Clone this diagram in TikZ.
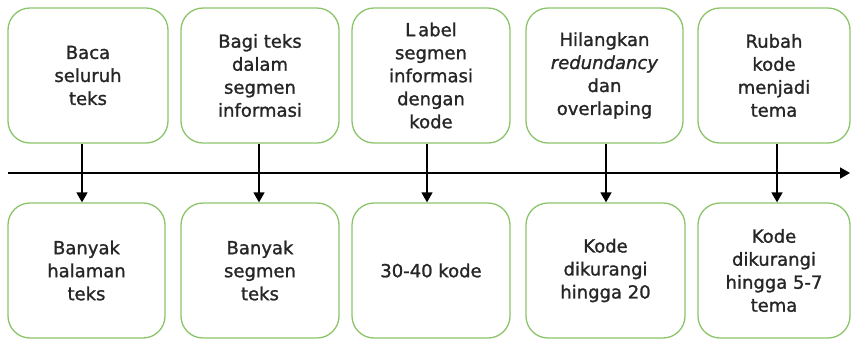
\documentclass[tikz,border=0pt]{standalone}
\usepackage{fontspec}
\newfontfamily\boxfont[FakeBold=1.3]{DejaVu Sans}
\usetikzlibrary{arrows.meta}
\definecolor{boxgreen}{RGB}{140,196,106}
\definecolor{ink}{RGB}{38,38,38}
\tikzset{
  stepbox/.style={draw=boxgreen, line width=1.3pt, rounded corners=22pt,
    minimum height=135pt, align=center, text=ink,
    font=\boxfont\fontsize{18}{23}\selectfont},
  flow/.style={line width=1.6pt, ->}
}
\begin{document}
\begin{tikzpicture}[x=1pt, y=-1pt, >={Triangle[width=11pt,length=10pt]}]
        \useasboundingbox (0, 0) rectangle (851, 341);
        % upper row
        \node[stepbox, minimum width=160pt] (t1) at (88, 75.5) {Baca\\seluruh\\teks};
        \node[stepbox, minimum width=158pt] (t2) at (260, 75.5) {Bagi teks\\dalam\\segmen\\informasi};
        \node[stepbox, minimum width=158pt] (t3) at (431, 75.5) {L\kern3pt abel\\segmen\\informasi\\dengan\\kode};
        \node[stepbox, minimum width=157pt] (t4) at (604.5, 75.5) {Hilangkan\\\textit{redundancy}\\dan\\overlaping};
        \node[stepbox, minimum width=152pt] (t5) at (774, 75.5) {Rubah\\kode\\menjadi\\tema};
        % lower row
        \node[stepbox, minimum width=157pt] (b1) at (86.5, 270.5) {Banyak\\halaman\\teks};
        \node[stepbox, minimum width=158pt] (b2) at (260, 270.5) {Banyak\\segmen\\teks};
        \node[stepbox, minimum width=158pt] (b3) at (431, 270.5) {30-40 kode};
        \node[stepbox, minimum width=159pt] (b4) at (605.5, 270.5) {Kode\\dikurangi\\hingga 20};
        \node[stepbox, minimum width=152pt] (b5) at (774, 270.5) {Kode\\dikurangi\\hingga 5-7\\tema};
        % time line
        \coordinate (start) at (8, 173);
        \coordinate (end) at (850, 173);
        \draw[flow] (start) -- (end);
        \draw[flow] ([xshift=-6pt]t1.south) -- ([xshift=-6pt]t1.south |- b1.north);
        \draw[flow] ([xshift=-1pt]t2.south) -- ([xshift=-1pt]t2.south |- b2.north);
        \draw[flow] ([xshift=-4pt]t3.south) -- ([xshift=-4pt]t3.south |- b3.north);
        \draw[flow] ([xshift=1.5pt]t4.south) -- ([xshift=1.5pt]t4.south |- b4.north);
        \draw[flow] ([xshift=3pt]t5.south) -- ([xshift=3pt]t5.south |- b5.north);
\end{tikzpicture}
\end{document}
